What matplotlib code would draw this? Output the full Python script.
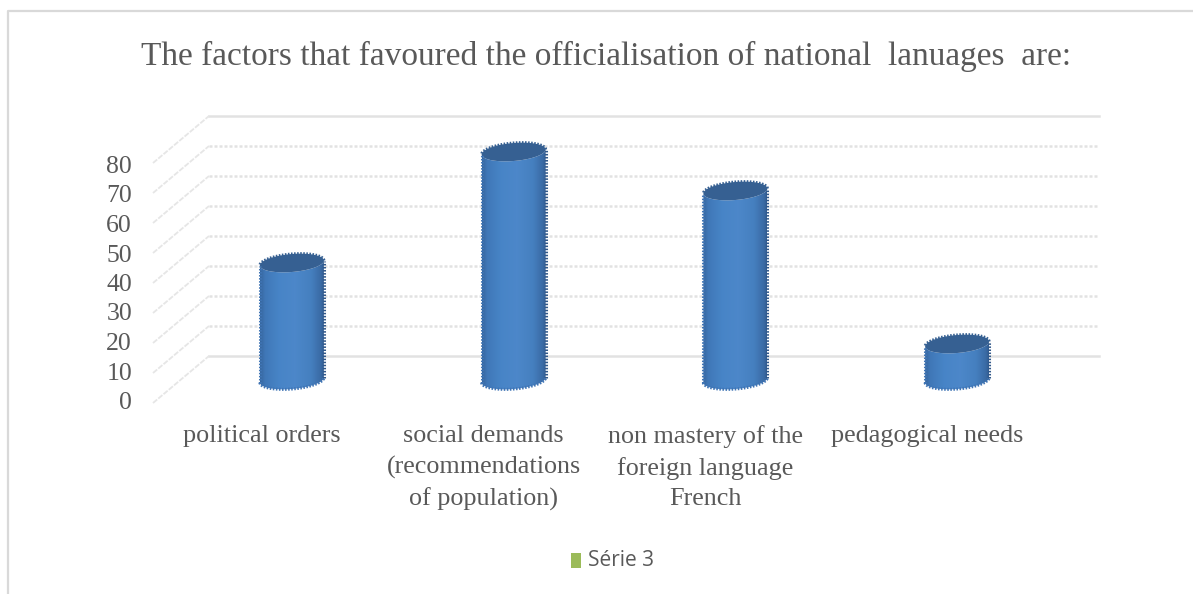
import numpy as np
import matplotlib
matplotlib.use("Agg")
import matplotlib.pyplot as plt
from matplotlib.patches import PathPatch, Polygon
from matplotlib.path import Path
from matplotlib.lines import Line2D
from matplotlib.transforms import ScaledTranslation

title = "The factors that favoured the officialisation of national  lanuages  are:"
categories = ["political orders",
              "social demands\n(recommendations\nof population)",
              "non mastery of the\nforeign language\nFrench",
              "pedagogical needs"]
values = [39, 76, 63, 12]
y_ticks = [0, 10, 20, 30, 40, 50, 60, 70, 80]
series_name = "Série 3"

W, H = 1193, 594
fig = plt.figure(figsize=(W / 100, H / 100), dpi=100)
fig.patch.set_facecolor("white")

# Axes sit on the mid-depth plane of the pseudo-3D box
left, right, base, top = 181, 1068, 380, 140
ax = fig.add_axes([left / W, 1 - base / H, (right - left) / W, (base - top) / H])
ax.set_xlim(-0.5, 3.5)
ax.set_ylim(0, 80)
ax.axis("off")

serif = "Liberation Serif"
text_col = "#595959"
grid_col = "#e2e2e2"
px_per_x = (right - left) / 4
px_per_y = (base - top) / 80


def shift(px, py):
    return ax.transData + ScaledTranslation(px / 100, py / 100, fig.dpi_scale_trans)


# Back wall gridlines and the receding lines on the side wall
dx_back, dy_back = 28, 24
dx_front, dy_front = -28, -23
for v in y_ticks:
    solid = v in (0, 80)
    ls = "-" if solid else (0, (1.2, 0.8))
    ax.plot([-0.5, 3.5 + 3 / px_per_x], [v, v], transform=shift(dx_back, dy_back), color=grid_col,
            lw=1.8, ls=ls, clip_on=False, zorder=1)
    ax.plot([-0.5 + (dx_front - dx_back) / px_per_x, -0.5], [v + (dy_front - dy_back) / px_per_y, v],
            transform=shift(dx_back, dy_back), color="#e6e6e6", lw=1.3,
            ls=(0, (3, 0.8)), clip_on=False, zorder=1)
    # Tick labels run slightly tighter than the gridlines
    ax.annotate(str(v), xy=(-0.5, v), xytext=(-49, -23 - 0.05 * v), textcoords="offset pixels",
                ha="right", va="center", family=serif, fontsize=18.5, color=text_col,
                annotation_clip=False)

# Cylinders: shaded body clipped to the outline, then the darker tilted cap
half_w = 32 / px_per_x
cap_h = 18 / px_per_y
skew = 2.5 / px_per_y
shade = np.array([0.0, 0.08, 0.3, 0.55, 0.8, 0.95, 1.0])
stops = np.array([[0.21, 0.40, 0.62], [0.25, 0.47, 0.72], [0.28, 0.52, 0.78],
                  [0.30, 0.53, 0.79], [0.27, 0.50, 0.75], [0.23, 0.42, 0.65],
                  [0.20, 0.37, 0.58]])
xs = np.linspace(0, 1, 128)
grad = np.stack([np.interp(xs, shade, stops[:, c]) for c in range(3)], axis=1)[None, :, :]
theta = np.linspace(np.pi, 2 * np.pi, 40)

for i, v in enumerate(values):
    x0, x1 = i - half_w, i + half_w
    low_x = i + half_w * np.cos(theta)
    low_y = cap_h / 2 * np.sin(theta) + skew * np.cos(theta)
    outline = np.column_stack([np.r_[low_x, low_x[::-1]], np.r_[low_y, v + low_y[::-1]]])
    body = PathPatch(Path(np.vstack([outline, outline[0]])), fc="none", ec="none",
                     transform=ax.transData)
    ax.add_patch(body)
    img = ax.imshow(grad, extent=(x0, x1, -cap_h, v + cap_h), aspect="auto", zorder=3)
    img.set_clip_box(fig.bbox)
    img.set_clip_path(body)
    full = np.linspace(0, 2 * np.pi, 80)
    cap = np.column_stack([i + half_w * np.cos(full),
                           v + cap_h / 2 * np.sin(full) + skew * np.cos(full)])
    ax.add_patch(Polygon(cap, fc="#366092", ec="none", zorder=4, clip_on=False))
    # Stepped edge of the low-resolution render
    dotted = (0, (0.5, 0.5))
    ax.plot(low_x, low_y, color="#3f74b4", lw=2.2, ls=dotted, zorder=4, clip_on=False)
    ax.plot([x0, x0], [-skew, v - skew], color="#3f74b4", lw=2.2, ls=dotted, zorder=4, clip_on=False)
    ax.plot([x1, x1], [skew, v + skew], color="#31588a", lw=2.2, ls=dotted, zorder=4, clip_on=False)
    ax.plot(cap[:40, 0], cap[:40, 1], color="#366092", lw=2.2, ls=dotted, zorder=4, clip_on=False)
    ax.annotate(categories[i], xy=(i, 0), xytext=(-30, -45), textcoords="offset pixels",
                ha="center", va="top", family=serif, fontsize=18.8, color=text_col,
                linespacing=1.5, annotation_clip=False)

ax.set_xlim(-0.5, 3.5)
ax.set_ylim(0, 80)

# Chart frame, title and legend
fig.add_artist(Line2D([8 / W, 8 / W, 1], [0, 1 - 11 / H, 1 - 11 / H],
                      color="#d9d9d9", lw=1.6))
fig.text(606 / W, 1 - 56 / H, title, ha="center", va="center", family=serif,
         fontsize=24, color=text_col)
fig.patches.append(plt.Rectangle((571 / W, 1 - 568 / H), 10 / W, 15 / H, fc="#9bbb59",
                                 ec="none", transform=fig.transFigure, figure=fig))
fig.text(588 / W, 1 - 560 / H, series_name, ha="left", va="center",
         family="Open Sans", fontsize=15, color=text_col)

fig.savefig("out.png", dpi=100)
